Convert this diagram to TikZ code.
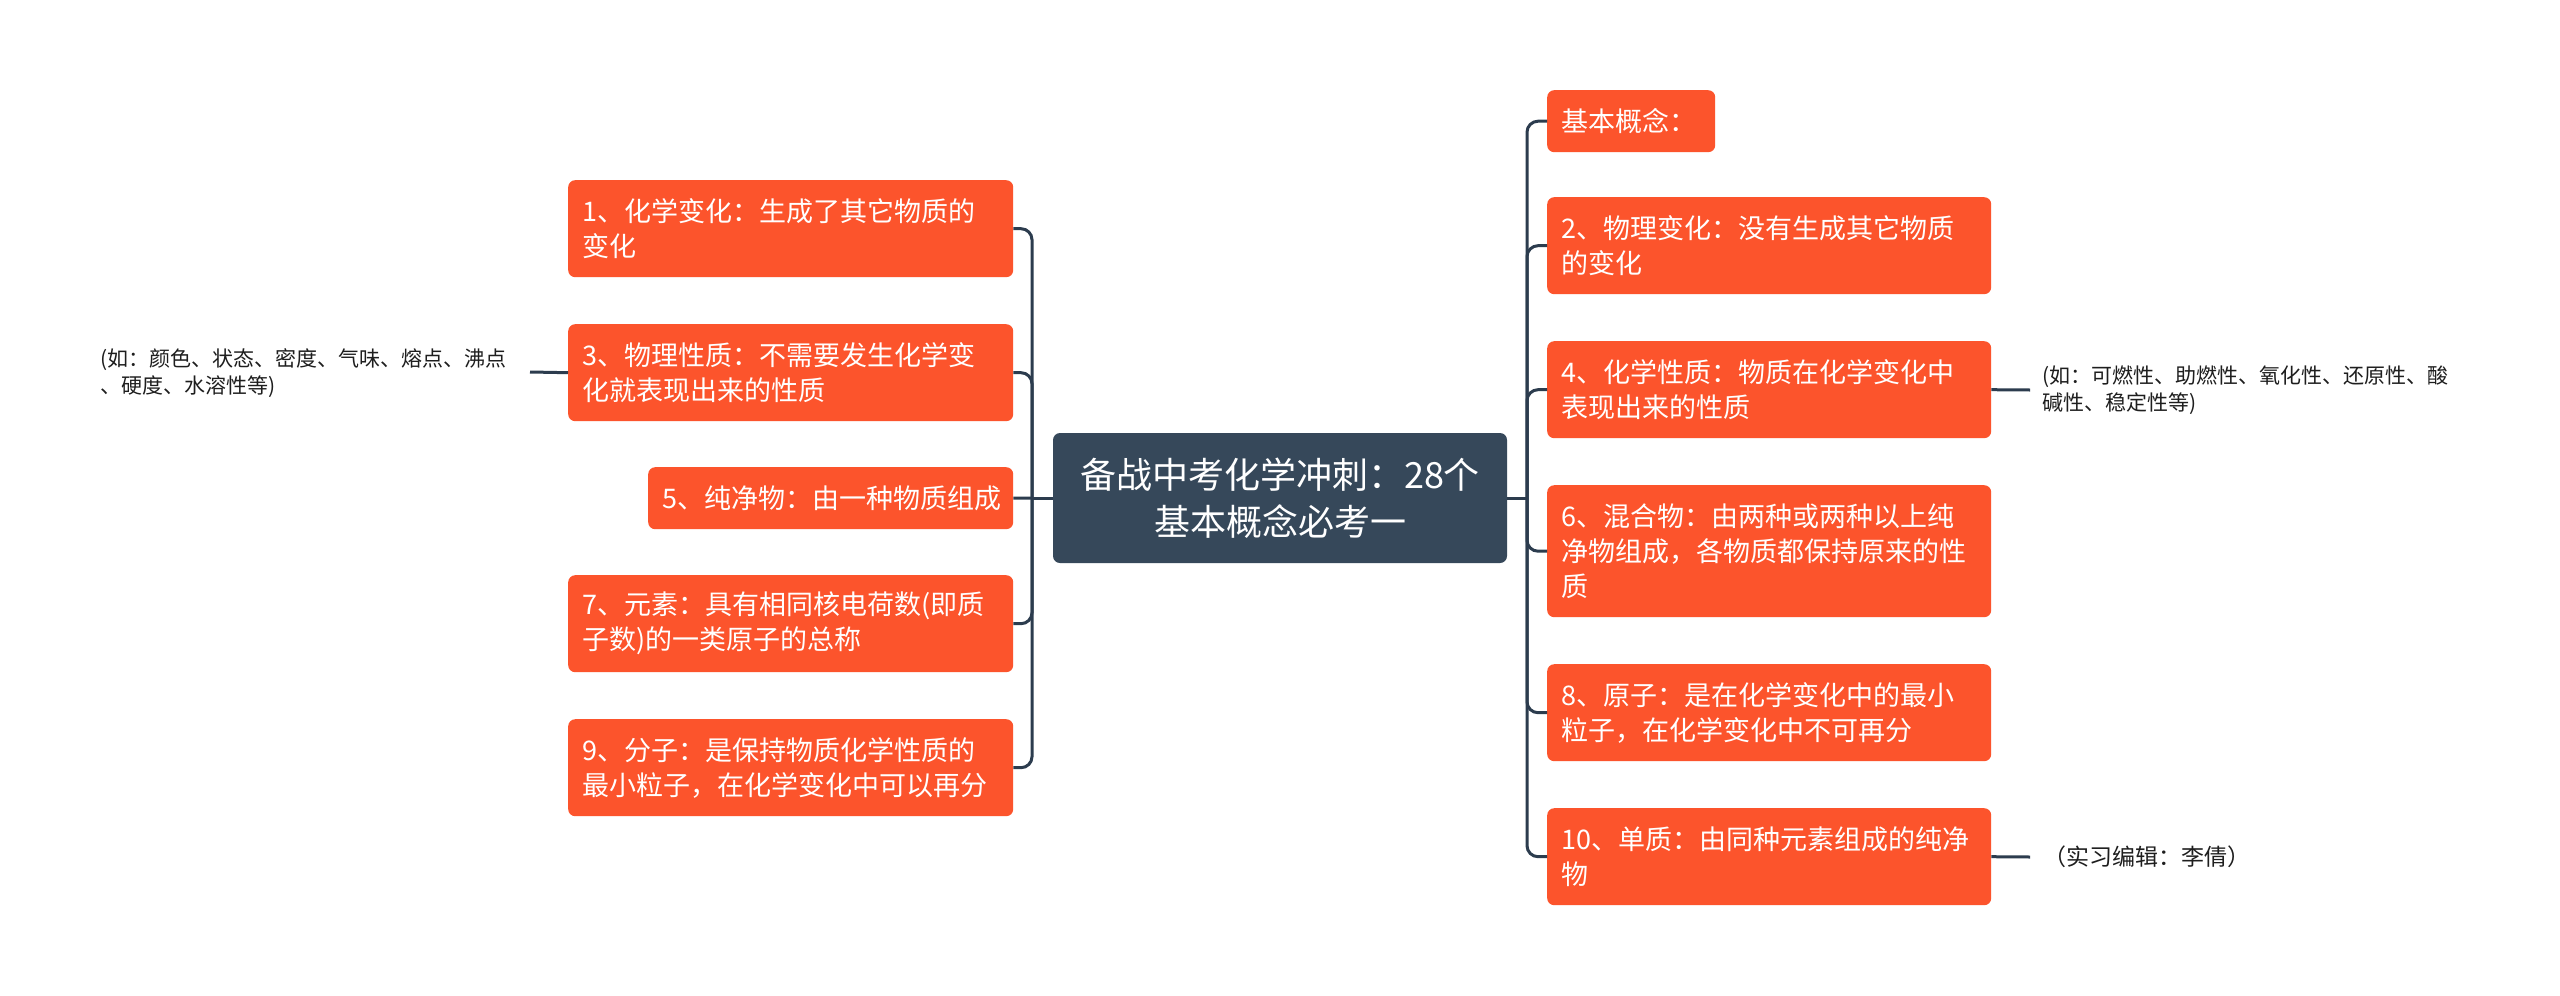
\documentclass[tikz,border=0pt]{standalone}
\usepackage{fontspec}
\newfontfamily\cjk{Noto Sans CJK SC}
\definecolor{topicfill}{RGB}{252,84,44}
\definecolor{rootfill}{RGB}{54,72,90}
\definecolor{linecol}{RGB}{44,60,78}
\definecolor{notecol}{RGB}{30,30,30}
\begin{document}
\begin{tikzpicture}[x=1pt,y=-1pt,
  topic/.style={fill=topicfill, rounded corners=7pt, inner xsep=14pt, inner ysep=0pt,
    text=white, align=left, anchor=north west, font=\cjk\fontsize{27}{35}\selectfont},
  root/.style={fill=rootfill, rounded corners=7pt, inner sep=0pt, text=white, align=center,
    font=\cjk\fontsize{36}{47}\selectfont},
  note/.style={inner sep=0pt, text=notecol, align=left, anchor=west, font=\cjk\fontsize{21}{27}\selectfont},
  conn/.style={draw=linecol, line width=3pt},
  branch/.style={conn, rounded corners=11pt}]
\useasboundingbox (0,0) rectangle (2560,996);
\fill[white] (0,0) rectangle (2560,996);

% root
\node[root, minimum width=454pt, minimum height=130pt] (c) at (1280,498) {备战中考化学冲刺：28个\\基本概念必考一};

% left topics
\node[topic, text width=417pt, minimum height=97pt] (b1) at (568,180) {1、化学变化：生成了其它物质的\\变化};
\node[topic, text width=417pt, minimum height=97pt] (b3) at (568,324) {3、物理性质：不需要发生化学变\\化就表现出来的性质};
\node[topic, text width=337pt, minimum height=62pt] (b5) at (648,467) {5、纯净物：由一种物质组成};
\node[topic, text width=417pt, minimum height=97pt] (b7) at (568,575) {7、元素：具有相同核电荷数(即质\\子数)的一类原子的总称};
\node[topic, text width=417pt, minimum height=97pt] (b9) at (568,719) {9、分子：是保持物质化学性质的\\最小粒子，在化学变化中可以再分};

% right topics
\node[topic, text width=140pt, minimum height=62pt] (k0) at (1547,90) {基本概念：};
\node[topic, text width=416pt, minimum height=97pt] (k2) at (1547,197) {2、物理变化：没有生成其它物质\\的变化};
\node[topic, text width=416pt, minimum height=97pt] (k4) at (1547,341) {4、化学性质：物质在化学变化中\\表现出来的性质};
\node[topic, text width=416pt, minimum height=132pt] (k6) at (1547,485) {6、混合物：由两种或两种以上纯\\净物组成，各物质都保持原来的性\\质};
\node[topic, text width=416pt, minimum height=97pt] (k8) at (1547,664) {8、原子：是在化学变化中的最小\\粒子，在化学变化中不可再分};
\node[topic, text width=416pt, minimum height=97pt] (k10) at (1547,808) {10、单质：由同种元素组成的纯净\\物};

% notes
\node[note] (n3) at (100,373) {(如：颜色、状态、密度、气味、熔点、沸点\\、硬度、水溶性等)};
\node[note] (n4) at (2042,390) {(如：可燃性、助燃性、氧化性、还原性、酸\\碱性、稳定性等)};
\node[note, font=\cjk\fontsize{23}{29}\selectfont] (n10) at (2043,857) {（实习编辑：李倩）};

% junctions
\coordinate (jL) at (1032,498);
\coordinate (jR) at (1527,498);
\coordinate (n3c) at (530,372);
\coordinate (n4c) at (2030,390);
\coordinate (n10c) at (2030,857);

% connectors
\draw[conn] (c.west) -- (jL);
\draw[conn] (c.east) -- (jR);
\foreach \b in {b1,b3,b7,b9} \draw[branch] (jL) |- (\b.east);
\draw[conn] (jL) -- (b5.east);
\foreach \k in {k0,k2,k4,k6,k8,k10} \draw[branch] (jR) |- (\k.west);
\draw[conn] (b3.west) -- (n3c);
\draw[conn] (k4.east) -- (n4c);
\draw[conn] (k10.east) -- (n10c);
\end{tikzpicture}
\end{document}
